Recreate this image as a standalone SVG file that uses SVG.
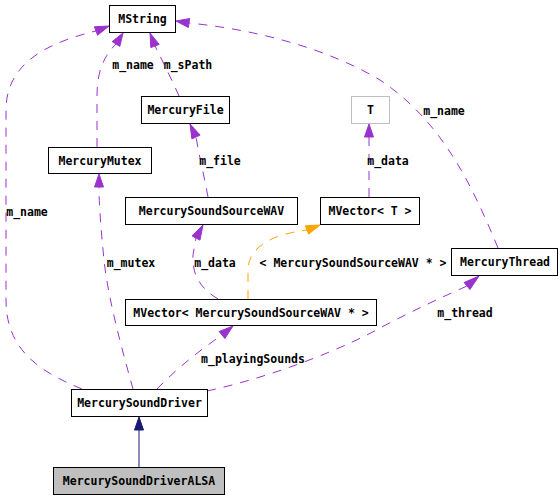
<svg xmlns="http://www.w3.org/2000/svg" width="560" height="498" viewBox="0 0 560 498">
<style>
text{font-family:"DejaVu Sans Mono","Liberation Mono",monospace;font-size:11.5px;font-weight:bold;fill:#000;text-anchor:middle}
.node{fill:#fff;stroke:#000;stroke-width:1}
.e{fill:none;stroke:#9a32cd;stroke-width:1;stroke-dasharray:9,8}
.ah{fill:#9a32cd;stroke:#9a32cd}
.o{fill:none;stroke:#ffa500;stroke-width:1;stroke-dasharray:9,8}
.oh{fill:#ffa500;stroke:#ffa500}
</style>
<rect width="560" height="498" fill="#fff"/>
<g id="edges">
<path class="e" d="M97,147 L97,95 C97,70 105,55 116,44"/>
<polygon class="ah" points="123,33 119.8,46.4 112.2,41.6"/>
<path class="e" d="M179,96 C172,80 163,62 155,46"/>
<polygon class="ah" points="150,33 159.2,44.4 150.8,47.6"/>
<path class="e" d="M498,248 C470,180 440,120 380,80 C330,50 260,30 189,23"/>
<polygon class="ah" points="176,21 189.7,18.55 188.3,27.45"/>
<path class="e" d="M82,389 C40,372 6,350 6,300 L6,110 C6,62 50,42 96,31"/>
<polygon class="ah" points="109,26 97.6,35.2 94.4,26.8"/>
<path class="e" d="M208,197 C205,180 200,160 196,137"/>
<polygon class="ah" points="190,124 200.1,135.1 191.9,138.9"/>
<path class="e" d="M369,197 L369,137"/>
<polygon class="ah" points="369,124 373.5,137 364.5,137"/>
<path class="e" d="M133,389 C125,360 108,300 104,260 C101,230 99,205 99,187"/>
<polygon class="ah" points="99,174 103.5,187 94.5,187"/>
<path class="e" d="M218,299 C200,288 192,275 193,255 L196,238"/>
<polygon class="ah" points="203,225 199.96,240.1 192.04,235.9"/>
<path class="o" d="M248,299 L248,268 C250,245 275,234 307,230"/>
<polygon class="oh" points="320,225 308.6,234.2 305.4,225.8"/>
<path class="e" d="M157,389 C175,370 200,350 222,335"/>
<polygon class="ah" points="233,326 224.85,338.5 219.15,331.5"/>
<path class="e" d="M207,391 C280,375 350,345 380,328 C410,312 440,298 467,286"/>
<polygon class="ah" points="479,276 469.9,289.5 464.1,282.5"/>
<path d="M139,467 L139,430" fill="none" stroke="#191970"/>
<polygon points="139,417 143.5,430 134.5,430" fill="#191970" stroke="#191970"/>
<text x="133" y="69">m_name</text>
<text x="188" y="69">m_sPath</text>
<text x="220" y="165">m_file</text>
<text x="444" y="115">m_name</text>
<text x="388" y="165">m_data</text>
<text x="27" y="216">m_name</text>
<text x="131" y="267">m_mutex</text>
<text x="215" y="267">m_data</text>
<text x="353" y="267">&lt; MercurySoundSourceWAV * &gt;</text>
<text x="465" y="317">m_thread</text>
<text x="253" y="363">m_playingSounds</text>
</g>
<g id="MString"><rect class="node" x="109.5" y="5.5" width="66" height="27"/><text x="142.5" y="23">MString</text></g>
<g id="MercuryFile"><rect class="node" x="141.5" y="96.5" width="88" height="27"/><text x="185.5" y="114">MercuryFile</text></g>
<g id="T"><rect class="node" x="351.5" y="96.5" width="38" height="27" style="stroke:#bfbfbf"/><text x="370.5" y="114">T</text></g>
<g id="MercuryMutex"><rect class="node" x="48.5" y="147.5" width="103" height="26"/><text x="100" y="164.5">MercuryMutex</text></g>
<g id="MercurySoundSourceWAV"><rect class="node" x="125.5" y="197.5" width="172" height="27"/><text x="211.5" y="215">MercurySoundSourceWAV</text></g>
<g id="MVectorT"><rect class="node" x="320.5" y="197.5" width="99" height="27"/><text x="370" y="215">MVector&lt; T &gt;</text></g>
<g id="MercuryThread"><rect class="node" x="451.5" y="248.5" width="106" height="27"/><text x="505" y="266">MercuryThread</text></g>
<g id="MVectorWAV"><rect class="node" x="125.5" y="299.5" width="251" height="26"/><text x="251" y="316.5">MVector&lt; MercurySoundSourceWAV * &gt;</text></g>
<g id="MercurySoundDriver"><rect class="node" x="71.5" y="389.5" width="136" height="27"/><text x="139.5" y="407">MercurySoundDriver</text></g>
<g id="MercurySoundDriverALSA"><rect class="node" x="53.5" y="467.5" width="171" height="27" style="fill:#bfbfbf"/><text x="139" y="485">MercurySoundDriverALSA</text></g>
</svg>
